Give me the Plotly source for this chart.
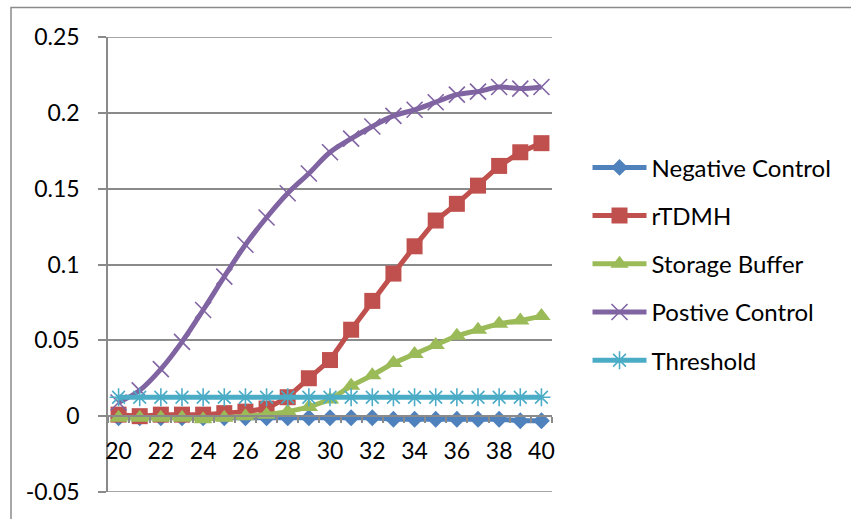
import plotly.graph_objects as go

cycles = list(range(20, 41))
negative_control = [-0.001, -0.001, -0.001, -0.001, -0.001, -0.001, -0.001, -0.001, -0.001, -0.001,
                    -0.001, -0.001, -0.001, -0.002, -0.002, -0.002, -0.002, -0.002, -0.002, -0.003, -0.003]
rtdmh = [0.001, 0.000, 0.001, 0.001, 0.001, 0.002, 0.003, 0.005, 0.0125, 0.025,
         0.037, 0.057, 0.076, 0.094, 0.112, 0.129, 0.140, 0.152, 0.165, 0.174, 0.180]
storage_buffer = [-0.001, -0.001, -0.001, -0.001, -0.002, -0.001, 0.000, 0.001, 0.003, 0.006,
                  0.011, 0.020, 0.027, 0.035, 0.041, 0.047, 0.053, 0.057, 0.061, 0.063, 0.066]
positive_control = [0.009, 0.017, 0.031, 0.049, 0.070, 0.092, 0.113, 0.131, 0.147, 0.160,
                    0.174, 0.183, 0.191, 0.198, 0.202, 0.207, 0.212, 0.214, 0.217, 0.216, 0.217]
threshold = [0.0125, 0.0125, 0.0125, 0.0125, 0.0125, 0.0125, 0.0125, 0.0125, 0.0125, 0.0125,
             0.0125, 0.0125, 0.0125, 0.0125, 0.0125, 0.0125, 0.0125, 0.0125, 0.0125, 0.0125, 0.0125]

x_tick_vals = [20, 22, 24, 26, 28, 30, 32, 34, 36, 38, 40]
x_tick_text = ["20", "22", "24", "26", "28", "30", "32", "34", "36", "38", "40"]
y_tick_vals = [-0.05, 0, 0.05, 0.1, 0.15, 0.2, 0.25]
y_tick_text = ["-0.05", "0", "0.05", "0.1", "0.15", "0.2", "0.25"]
y_range = [-0.05, 0.25]
category_edges = [v - 0.5 for v in cycles] + [cycles[-1] + 0.5]

FONT = "Lato, 'Open Sans', sans-serif"
GRID = "#8a8a8a"
LW = 5

fig = go.Figure()

series = [
    ("Negative Control", negative_control, "#4F81BD", dict(symbol="diamond", size=13), "linear"),
    ("rTDMH", rtdmh, "#C0504D", dict(symbol="square", size=16), "linear"),
    ("Storage Buffer", storage_buffer, "#9BBB59", dict(symbol="triangle-up", size=16), "linear"),
    ("Postive Control", positive_control, "#8064A2", dict(symbol="x-thin", size=16), "spline"),
    ("Threshold", threshold, "#4BACC6", dict(symbol="asterisk", size=15), "linear"),
]

for i, (name, vals, color, mk, shape) in enumerate(series):
    marker = dict(color=color, **mk)
    if mk["symbol"] in ("x-thin", "asterisk"):
        marker["line"] = dict(color=color, width=1.6)
    else:
        marker["line"] = dict(width=0)
    fig.add_trace(go.Scatter(
        x=cycles, y=vals, name=name, mode="lines+markers",
        line=dict(color=color, width=LW, shape=shape),
        marker=marker, legendgroup=f"g{i}",
    ))

edge_lines = [
    dict(type="line", xref="paper", yref="y", x0=0, x1=1, y0=yv, y1=yv,
         line=dict(color=GRID, width=1.5), layer="below")
    for yv in (y_range[0], y_range[1])
]

fig.update_layout(
    width=851, height=519,
    margin=dict(l=108, r=299, t=37, b=27),
    paper_bgcolor="white", plot_bgcolor="white",
    font=dict(family=FONT, size=23, color="black"),
    showlegend=True,
    legend=dict(
        x=1.08, xanchor="left", y=0.762, yanchor="top",
        font=dict(family=FONT, size=24, color="black"),
        itemwidth=54,
        tracegroupgap=14, bgcolor="rgba(0,0,0,0)",
    ),
    xaxis=dict(
        range=[19.5, 40.5], anchor="free", position=1/6,
        showgrid=False, zeroline=False,
        showline=True, linecolor=GRID, linewidth=1.5,
        tickmode="array", tickvals=x_tick_vals, ticktext=x_tick_text,
        ticks="", ticklabelstandoff=14,
        minor=dict(tickmode="array", tickvals=category_edges, ticks="outside",
                   ticklen=6, tickcolor=GRID, tickwidth=1.5, showgrid=False),
        tickfont=dict(family=FONT, size=23, color="black"),
    ),
    yaxis=dict(
        range=y_range, domain=[0, 1],
        showgrid=True, gridcolor=GRID, gridwidth=1.5, zeroline=False,
        showline=True, linecolor=GRID, linewidth=1.5,
        tickmode="array", tickvals=y_tick_vals, ticktext=y_tick_text,
        ticks="outside", ticklen=8, tickcolor=GRID, tickwidth=1.5,
        ticklabelstandoff=14,
        tickfont=dict(family=FONT, size=23, color="black"),
    ),
    shapes=[
        dict(type="rect", xref="paper", yref="paper",
             x0=(11 - 108) / 444, x1=(870 - 108) / 444,
             y0=(492 - 540) / 455, y1=(492 - 7.5) / 455,
             line=dict(color=GRID, width=1.5), fillcolor="rgba(0,0,0,0)", layer="below"),
    ] + edge_lines,
)

fig.write_html("out.html")
